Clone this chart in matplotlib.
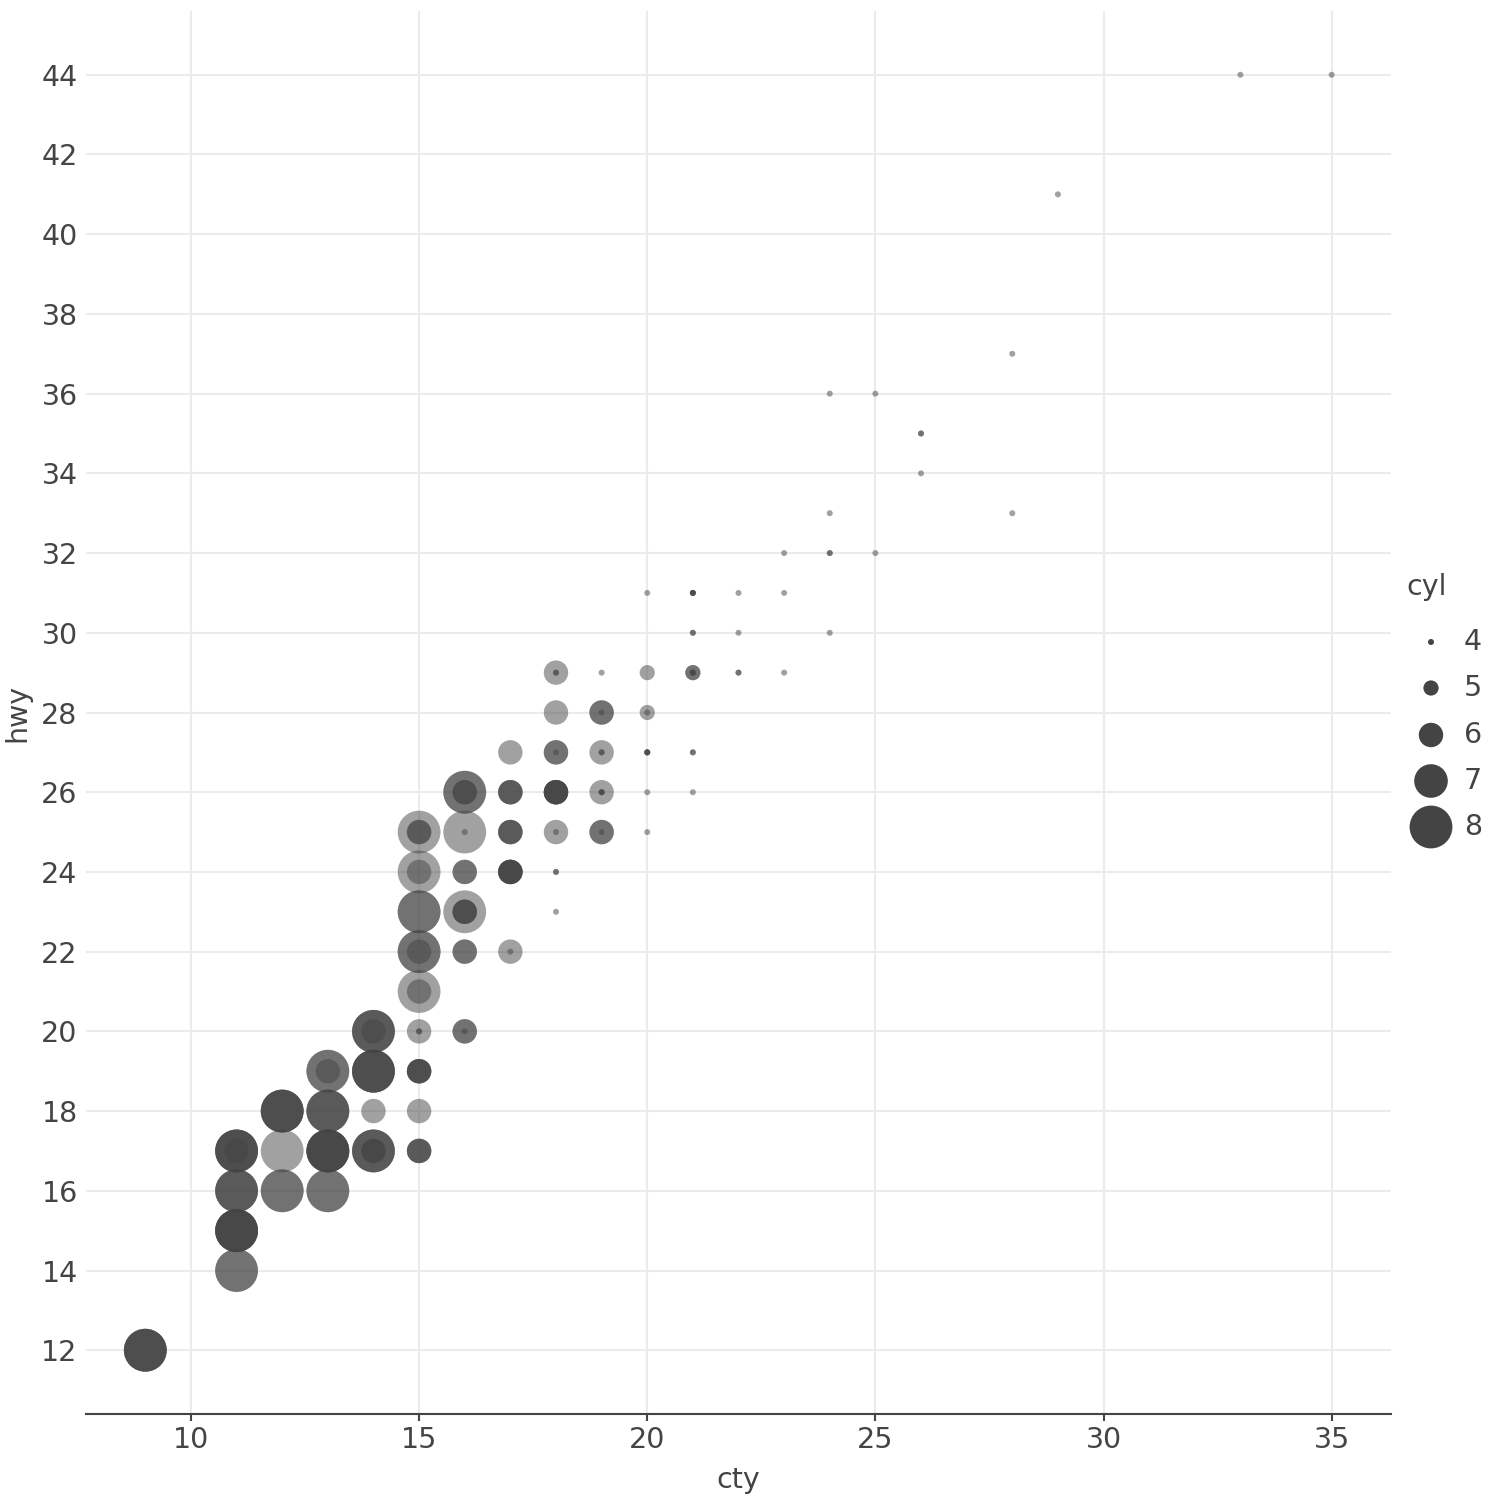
import numpy as np
import matplotlib
matplotlib.use("Agg")
import matplotlib.pyplot as plt

# (cty, hwy, cyl, count), one group per cylinder count
cyl8_cty = [9, 11, 11, 11, 11, 12, 12, 12, 13, 13, 13, 13, 14, 14, 14, 15, 15, 15, 15, 15, 16, 16, 16]
cyl8_hwy = [12, 14, 15, 16, 17, 16, 17, 18, 16, 17, 18, 19, 17, 19, 20, 21, 22, 23, 24, 25, 23, 25, 26]
cyl8_n = [4, 2, 5, 3, 4, 2, 1, 4, 2, 5, 3, 2, 3, 4, 3, 1, 2, 2, 1, 1, 1, 1, 2]

cyl6_cty = [11, 13, 14, 14, 14, 15, 15, 15, 15, 15, 15, 15, 15, 16, 16, 16, 16, 16,
            17, 17, 17, 17, 17, 18, 18, 18, 18, 18, 19, 19, 19, 19]
cyl6_hwy = [17, 19, 17, 18, 20, 17, 18, 19, 20, 21, 22, 24, 25, 20, 22, 23, 24, 26,
            22, 24, 25, 26, 27, 25, 26, 27, 28, 29, 25, 26, 27, 28]
cyl6_n = [1, 1, 2, 1, 1, 3, 1, 4, 1, 1, 1, 1, 2, 2, 2, 3, 2, 2,
          1, 5, 3, 3, 1, 1, 5, 2, 1, 1, 2, 1, 1, 2]

cyl5_cty = [20, 20, 21]
cyl5_hwy = [28, 29, 29]
cyl5_n = [1, 1, 2]

cyl4_cty = [15, 16, 16, 17, 18, 18, 18, 18, 18, 19, 19, 19, 19, 19, 20, 20, 20, 20, 20,
            21, 21, 21, 21, 21, 22, 22, 22, 23, 23, 23, 24, 24, 24, 24, 25, 25, 26, 26,
            28, 28, 29, 33, 35]
cyl4_hwy = [20, 20, 25, 22, 23, 24, 25, 27, 29, 25, 26, 27, 28, 29, 25, 26, 27, 28, 31,
            26, 27, 29, 30, 31, 29, 30, 31, 29, 31, 32, 30, 32, 33, 36, 32, 36, 34, 35,
            33, 37, 41, 44, 44]
cyl4_n = [2, 1, 1, 1, 1, 2, 1, 1, 2, 1, 3, 2, 1, 1, 1, 1, 4, 1, 1,
          1, 2, 3, 2, 4, 2, 1, 1, 1, 1, 1, 1, 2, 1, 1, 1, 1, 1, 2,
          1, 1, 1, 1, 1]

legend_cyl = [4, 5, 6, 7, 8]
x_ticks = [10, 15, 20, 25, 30, 35]
y_ticks = list(range(12, 46, 2))

groups = [
    (cyl8_cty, cyl8_hwy, 8, cyl8_n),
    (cyl6_cty, cyl6_hwy, 6, cyl6_n),
    (cyl5_cty, cyl5_hwy, 5, cyl5_n),
    (cyl4_cty, cyl4_hwy, 4, cyl4_n),
]

cty, hwy, cyl = [], [], []
for gx, gy, c, gn in groups:
    for xv, yv, n in zip(gx, gy, gn):
        cty += [xv] * n
        hwy += [yv] * n
        cyl += [c] * n
cty = np.array(cty)
hwy = np.array(hwy)
cyl = np.array(cyl)

DOT = "#444444"
TXT = "#444444"
GRID = "#ebebeb"


def marker_area(c):
    # diameter in pixels grows linearly with cyl, converted to points^2
    d_px = 6 + 9.2 * (np.asarray(c) - 4)
    return (d_px * 72 / 100) ** 2


plt.rcParams['font.family'] = ['DejaVu Sans']

fig = plt.figure(figsize=(15, 15), dpi=100)
ax = fig.add_axes([86 / 1500, 86 / 1500, (1391 - 86) / 1500, (1414 - 11) / 1500])

ax.scatter(cty, hwy, s=marker_area(cyl), c=DOT, alpha=0.5, linewidths=0, zorder=3)

ax.set_xlim(7.7, 36.3)
ax.set_ylim(10.4, 45.6)
ax.set_xticks(x_ticks)
ax.set_yticks(y_ticks)
ax.grid(True, color=GRID, linewidth=1.5, zorder=0)
ax.set_axisbelow(True)
for side in ["top", "right", "left"]:
    ax.spines[side].set_visible(False)
ax.spines["bottom"].set_color(TXT)
ax.spines["bottom"].set_linewidth(1.5)
ax.tick_params(axis="x", colors=TXT, labelsize=20.5, length=5, width=1.5, pad=4)
ax.tick_params(axis="y", colors=TXT, labelsize=20.5, length=0, pad=6)
ax.set_xlabel("cty", fontsize=20.5, color=TXT, labelpad=8)
ax.set_ylabel("hwy", fontsize=20.5, color=TXT, labelpad=7)

# legend drawn in its own small axes
lax = fig.add_axes([1400 / 1500, 0, 100 / 1500, 1], facecolor="none")
lax.set_xlim(1400, 1500)
lax.set_ylim(1500, 0)
lax.axis("off")
leg_y = [642, 688, 735, 781, 827]
lax.scatter([1431] * len(legend_cyl), leg_y, s=marker_area(legend_cyl), c=DOT, linewidths=0)
for yv, c in zip(leg_y, legend_cyl):
    lax.text(1464, yv, str(c), fontsize=20.5, color=TXT, va="center", ha="left")
lax.text(1406, 587, "cyl", fontsize=20.5, color=TXT, va="center", ha="left")

fig.savefig("out.png", dpi=100)
